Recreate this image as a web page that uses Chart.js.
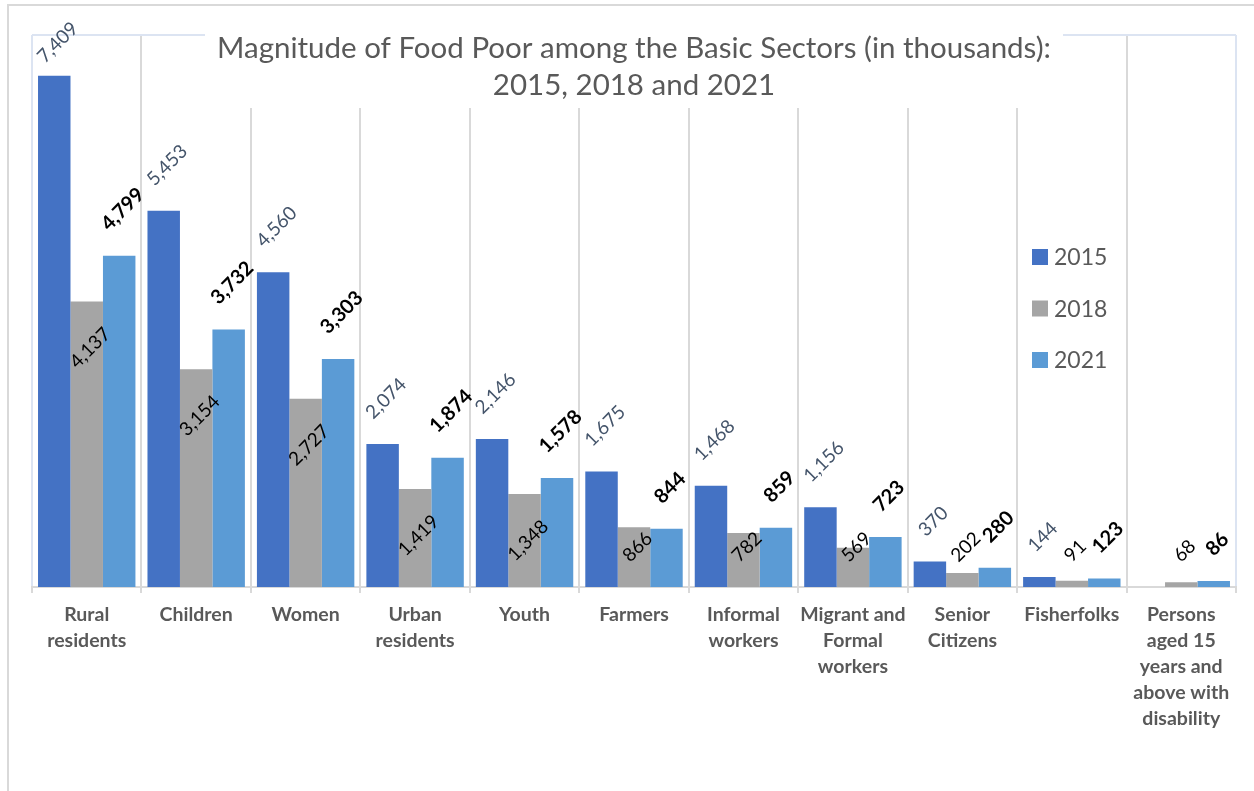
<!DOCTYPE html>
<html>
<head>
<meta charset="utf-8">
<script src="https://cdn.jsdelivr.net/npm/chart.js@4.4.1/dist/chart.umd.min.js"></script>
<style>
  html, body { margin: 0; padding: 0; background: #ffffff; }
  canvas { display: block; }
</style>
</head>
<body>
<canvas id="chart" width="1254" height="791"></canvas>
<script>
// Basic sectors (multi-line axis labels)
const categories = [
  ["Rural", "residents"],
  ["Children"],
  ["Women"],
  ["Urban", "residents"],
  ["Youth"],
  ["Farmers"],
  ["Informal", "workers"],
  ["Migrant and", "Formal", "workers"],
  ["Senior", "Citizens"],
  ["Fisherfolks"],
  ["Persons", "aged 15", "years and", "above with", "disability"]
];

const seriesNames = ["2015", "2018", "2021"];

// Food poor population, in thousands
const values2015 = [7409, 5453, 4560, 2074, 2146, 1675, 1468, 1156, 370, 144, null];
const values2018 = [4137, 3154, 2727, 1419, 1348, 866, 782, 569, 202, 91, 68];
const values2021 = [4799, 3732, 3303, 1874, 1578, 844, 859, 723, 280, 123, 86];

const titleLines = [
  "Magnitude of Food Poor among the Basic Sectors (in thousands):",
  "2015, 2018 and 2021"
];

const FONT = "Lato, 'Open Sans', sans-serif";
const GRID = "#D9D9D9";
const PLOT_EDGE = "#DCE4F2";
const TEXT_GRAY = "#595959";

// Outer chart frame
const framePlugin = {
  id: "frame",
  beforeDraw(chart) {
    const ctx = chart.ctx;
    ctx.save();
    ctx.fillStyle = "#ffffff";
    ctx.fillRect(0, 0, chart.width, chart.height);
    ctx.strokeStyle = GRID;
    ctx.lineWidth = 2;
    ctx.beginPath();
    ctx.moveTo(8, chart.height);
    ctx.lineTo(8, 5);
    ctx.lineTo(chart.width, 5);
    ctx.stroke();
    ctx.restore();
  }
};

// Plot-area top edge and the title sitting on a white panel over the grid
const titlePlugin = {
  id: "titlePanel",
  beforeDatasetsDraw(chart) {
    const ctx = chart.ctx;
    const a = chart.chartArea;
    ctx.save();
    ctx.strokeStyle = PLOT_EDGE;
    ctx.lineWidth = 2;
    ctx.beginPath();
    ctx.moveTo(a.left, a.top);
    ctx.lineTo(a.right, a.top);
    ctx.stroke();

    ctx.font = "29.5px " + FONT;
    const widths = titleLines.map(t => ctx.measureText(t).width);
    const maxW = Math.max(...widths);
    const cx = (a.left + a.right) / 2;
    ctx.fillStyle = "#ffffff";
    ctx.fillRect(cx - maxW / 2 - 12, a.top - 4, maxW + 24, 77);

    ctx.fillStyle = TEXT_GRAY;
    ctx.textAlign = "center";
    ctx.textBaseline = "middle";
    titleLines.forEach((t, i) => ctx.fillText(t, cx, a.top + 13 + i * 37));
    ctx.restore();
  }
};

// Rotated value labels above / inside the bars
const LABEL_GAP = 24;
const valueLabelPlugin = {
  id: "valueLabels",
  afterDatasetsDraw(chart) {
    const ctx = chart.ctx;
    chart.data.datasets.forEach((ds, di) => {
      const meta = chart.getDatasetMeta(di);
      if (meta.hidden) return;
      const st = ds.valueLabel;
      meta.data.forEach((bar, i) => {
        const v = ds.data[i];
        if (v === null || v === undefined) return;
        const text = v.toLocaleString("en-US");
        ctx.save();
        ctx.font = st.weight + " " + st.size + "px " + FONT;
        const w = ctx.measureText(text).width;
        const h = st.size * 0.72;
        const half = (w + h) / (2 * Math.SQRT2);
        let cy;
        if (st.placement === "outside") {
          cy = bar.y - LABEL_GAP - half;
        } else {
          cy = Math.min(bar.y + LABEL_GAP + half, bar.base - LABEL_GAP - half);
        }
        // keep labels inside the chart frame
        cy = Math.max(cy, half + 20);
        const cx = bar.x + 3;
        ctx.translate(cx, cy);
        ctx.rotate(-Math.PI / 4);
        ctx.fillStyle = st.color;
        ctx.textAlign = "center";
        ctx.textBaseline = "alphabetic";
        ctx.fillText(text, 0, h / 2);
        ctx.restore();
      });
    });
  }
};

// Legend placed inside the plot, right side
const legendPlugin = {
  id: "insideLegend",
  afterDraw(chart) {
    const ctx = chart.ctx;
    const a = chart.chartArea;
    const x0 = a.right - 204;
    const y0 = a.top + 222;
    ctx.save();
    ctx.font = "23px " + FONT;
    ctx.textAlign = "left";
    ctx.textBaseline = "middle";
    chart.data.datasets.forEach((ds, i) => {
      const y = y0 + i * 51.5;
      ctx.fillStyle = ds.backgroundColor;
      ctx.fillRect(x0, y - 8, 16, 16);
      ctx.fillStyle = TEXT_GRAY;
      ctx.fillText(ds.label, x0 + 22, y + 1);
    });
    ctx.restore();
  }
};

new Chart(document.getElementById("chart"), {
  type: "bar",
  data: {
    labels: categories,
    datasets: [
      {
        label: seriesNames[0],
        data: values2015,
        backgroundColor: "#4472C4",
        valueLabel: { color: "#44546A", weight: "normal", size: 19, placement: "outside" }
      },
      {
        label: seriesNames[1],
        data: values2018,
        backgroundColor: "#A5A5A5",
        valueLabel: { color: "#000000", weight: "normal", size: 19, placement: "inside" }
      },
      {
        label: seriesNames[2],
        data: values2021,
        backgroundColor: "#5B9BD5",
        valueLabel: { color: "#000000", weight: "bold", size: 20, placement: "outside" }
      }
    ]
  },
  options: {
    responsive: false,
    animation: false,
    layout: { padding: { left: 32, right: 18, top: 35, bottom: 0 } },
    datasets: {
      bar: { categoryPercentage: 0.89, barPercentage: 1.0, borderWidth: 0 }
    },
    plugins: {
      legend: { display: false },
      title: { display: false },
      tooltip: { enabled: false }
    },
    scales: {
      x: {
        afterFit(scale) { scale.height = 204; },
        grid: {
          offset: true,
          drawTicks: true,
          tickLength: 6,
          lineWidth: 2,
          color: (c) => (c.type !== "tick" || c.index === 0) ? PLOT_EDGE : GRID,
          tickColor: GRID
        },
        border: { display: true, color: GRID, width: 2 },
        ticks: {
          autoSkip: false,
          maxRotation: 0,
          minRotation: 0,
          padding: 9,
          color: TEXT_GRAY,
          font: { family: FONT, size: 19.5, weight: "bold", lineHeight: 26 / 19.5 }
        }
      },
      y: {
        display: false,
        min: 0,
        max: 8000
      }
    }
  },
  plugins: [framePlugin, titlePlugin, valueLabelPlugin, legendPlugin]
});
</script>
</body>
</html>
